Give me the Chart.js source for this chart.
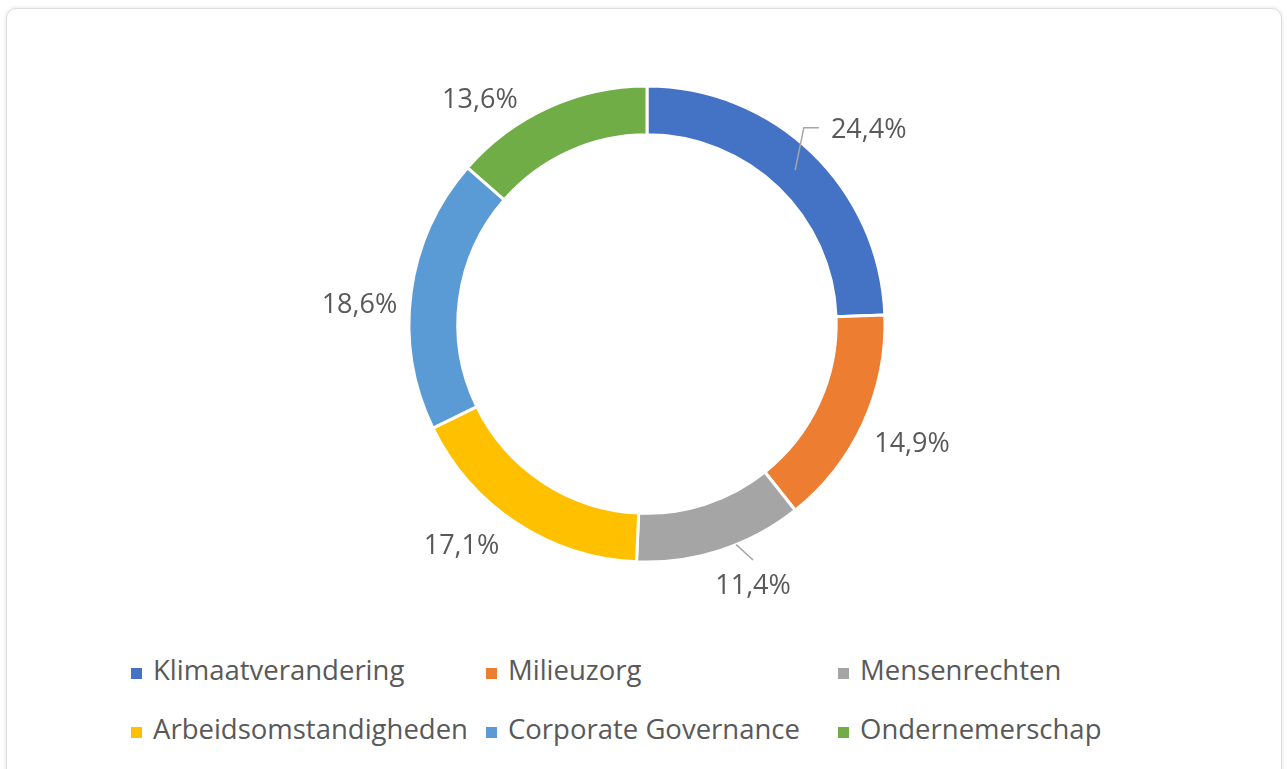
<!DOCTYPE html>
<html>
<head>
<meta charset="utf-8">
<script src="https://cdn.jsdelivr.net/npm/chart.js@4"></script>
<style>
  body { margin: 0; background: #fff; width: 1287px; height: 769px; overflow: hidden; position: relative; }
  .card { position: absolute; left: 6px; top: 8px; width: 1274px; height: 800px; border: 1px solid #dedede; border-radius: 10px; box-shadow: 0 0 4px rgba(0,0,0,0.12); background: #fff; }
  #wrap { position: absolute; left: 0; top: 0; width: 1287px; height: 640px; }
  .legend-item { position: absolute; font-family: "Open Sans", sans-serif; font-size: 27.5px; color: #595959; white-space: nowrap; line-height: 30px; }
  .legend-item .box { position: absolute; width: 11px; height: 11px; top: 13px; }
</style>
</head>
<body>
<div class="card"></div>
<div id="wrap"><canvas id="donut"></canvas></div>
<div id="legend"></div>
<script>
const categories = ["Klimaatverandering", "Milieuzorg", "Mensenrechten", "Arbeidsomstandigheden", "Corporate Governance", "Ondernemerschap"];
const shares = [24.4, 14.9, 11.4, 17.1, 18.6, 13.6];
const colors = ["#4472C4", "#ED7D31", "#A5A5A5", "#FFC000", "#5B9BD5", "#70AD47"];
const labelText = ["24,4%", "14,9%", "11,4%", "17,1%", "18,6%", "13,6%"];

// label placement tweaks (px) relative to the mid-angle point
const labelNudge = [[24, 12], [6, 1], [18, -9], [-29, -16], [-5, 19], [-49, 36]];
const legendCols = [131, 486, 838];
const legendRows = [655, 714];

const labelFont = "27px 'Open Sans', sans-serif";

const outsideLabels = {
  id: "outsideLabels",
  afterDatasetsDraw(chart) {
    const ctx = chart.ctx;
    const arcs = chart.getDatasetMeta(0).data;
    ctx.save();
    ctx.font = labelFont;
    ctx.textAlign = "center";
    ctx.textBaseline = "middle";
    arcs.forEach((arc, i) => {
      const p = arc.getProps(["x", "y", "startAngle", "endAngle", "innerRadius", "outerRadius"], true);
      const mid = (p.startAngle + p.endAngle) / 2;
      const r = p.outerRadius + 47;
      const lx = p.x + Math.cos(mid) * r + labelNudge[i][0];
      const ly = p.y + Math.sin(mid) * r + labelNudge[i][1];
      const w = ctx.measureText(labelText[i]).width;

      ctx.strokeStyle = "#a6a6a6";
      ctx.lineWidth = 1.5;
      if (i === 0) {
        const rm = (p.innerRadius + p.outerRadius) / 2;
        ctx.beginPath();
        ctx.moveTo(p.x + Math.cos(mid) * rm, p.y + Math.sin(mid) * rm);
        ctx.lineTo(lx - w / 2 - 27, ly - 3);
        ctx.lineTo(lx - w / 2 - 12, ly - 3);
        ctx.stroke();
      }
      if (i === 2) {
        const a = mid - 0.07;
        ctx.beginPath();
        ctx.moveTo(p.x + Math.cos(a) * p.outerRadius, p.y + Math.sin(a) * p.outerRadius);
        ctx.lineTo(lx, ly - 26);
        ctx.stroke();
      }
      ctx.fillStyle = "#595959";
      ctx.fillText(labelText[i], lx, ly);
    });
    ctx.restore();
  },
};

new Chart(document.getElementById("donut"), {
  type: "doughnut",
  data: {
    labels: categories,
    datasets: [
      {
        data: shares,
        backgroundColor: colors,
        borderColor: "#ffffff",
        borderWidth: 3,
      },
    ],
  },
  options: {
    responsive: true,
    maintainAspectRatio: false,
    animation: false,
    radius: 238,
    cutout: "79.5%",
    layout: { padding: { left: 7, top: 8 } },
    plugins: {
      legend: { display: false },
      tooltip: { enabled: false },
    },
  },
  plugins: [outsideLabels],
});

// legend, three columns in two rows
const legendEl = document.getElementById("legend");
categories.forEach((name, i) => {
  const item = document.createElement("div");
  item.className = "legend-item";
  item.style.left = legendCols[i % 3] + "px";
  item.style.top = legendRows[Math.floor(i / 3)] + "px";
  item.style.paddingLeft = "22px";
  const box = document.createElement("span");
  box.className = "box";
  box.style.left = "0px";
  box.style.background = colors[i];
  item.appendChild(box);
  item.appendChild(document.createTextNode(name));
  legendEl.appendChild(item);
});
</script>
</body>
</html>
